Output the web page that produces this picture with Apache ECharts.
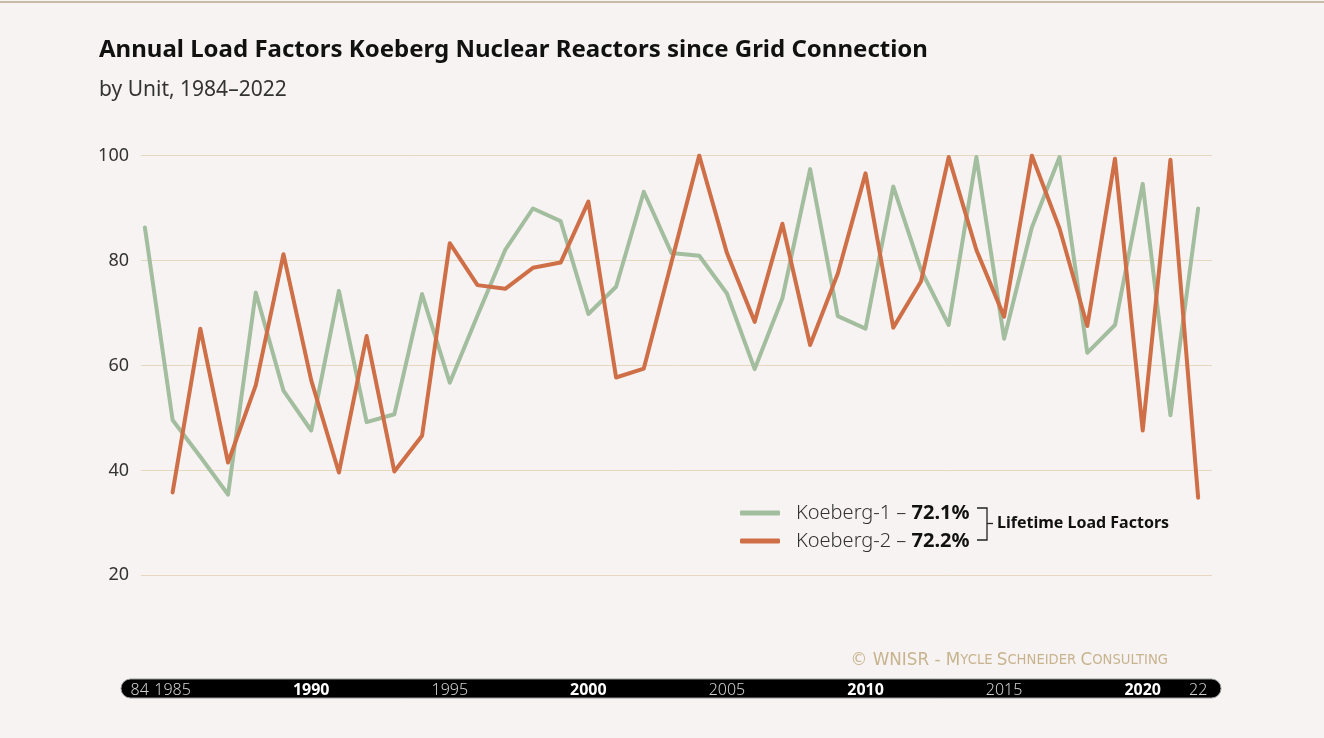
<!DOCTYPE html>
<html>
<head>
<meta charset="utf-8">
<script src="https://cdn.jsdelivr.net/npm/echarts@6/dist/echarts.min.js"></script>
<style>
html,body{margin:0;padding:0;background:#f7f3f2;}
#c{width:1324px;height:738px;}
</style>
</head>
<body>
<div id="c"></div>
<script>
const years = [1984,1985,1986,1987,1988,1989,1990,1991,1992,1993,1994,1995,1996,1997,1998,1999,2000,2001,2002,2003,2004,2005,2006,2007,2008,2009,2010,2011,2012,2013,2014,2015,2016,2017,2018,2019,2020,2021,2022];
const koeberg1 = [86.3,49.6,42.6,35.4,73.9,55.2,47.6,74.2,49.2,50.7,73.6,56.7,69.5,82.0,89.9,87.5,69.8,75.0,93.1,81.4,80.9,73.7,59.3,72.8,97.4,69.4,67.0,94.1,78.2,67.7,99.7,65.1,86.3,99.7,62.4,67.7,94.6,50.5,89.9];
const koeberg2 = [null,35.8,67.0,41.5,56.2,81.2,57.2,39.6,65.6,39.8,46.6,83.3,75.3,74.6,78.6,79.6,91.2,57.7,59.4,79.7,100,81.4,68.3,87.0,63.9,77.5,96.6,67.2,76.0,99.7,82.0,69.3,100,86.1,67.5,99.4,47.6,99.2,34.8];
const seriesNames = ['Koeberg-1','Koeberg-2'];
const lifetime = ['72.1%','72.2%'];
const yTicks = [0,20,40,60,80,100];
const xLabelYears = [1985,1990,1995,2000,2005,2010,2015,2020,2022];
const decadeYears = [1990,2000,2010,2020];

const FONT = '"Noto Sans", sans-serif';
const GREEN = '#a3bd9f';
const ORANGE = '#cf6f47';

const chart = echarts.init(document.getElementById('c'), null, {renderer:'canvas'});

function pairs(vals){ return years.map((y,i)=>[y, vals[i]]); }

chart.setOption({
  backgroundColor:'#f7f3f2',
  animation:false,
  title:{
    text:'Annual Load Factors Koeberg Nuclear Reactors since Grid Connection',
    subtext:'by Unit, 1984\u20132022',
    left:94, top:31,
    itemGap:13,
    textStyle:{fontFamily:FONT,fontSize:24,fontWeight:'bold',color:'#111',lineHeight:28},
    subtextStyle:{fontFamily:FONT,fontSize:21,color:'#333',lineHeight:26}
  },
  grid:{left:141,right:112,top:155.5,bottom:57.7,containLabel:false},
  xAxis:{
    type:'value', min:1983.86, max:2022.5, z:3,
    axisLine:{show:false}, axisTick:{show:false}, splitLine:{show:false},
    axisLabel:{
      customValues:xLabelYears,
      hideOverlap:false,
      margin:1,
      fontFamily:FONT, fontSize:16, lineHeight:18,
      formatter:function(v){
        if(v===1985) return '{e|' + String(years[0]).slice(2) + '}{f|' + v + '}';
        if(v===2022) return '{n|' + String(v).slice(2) + '}';
        if(decadeYears.indexOf(v)>=0) return '{d|'+v+'}';
        return '{n|'+v+'}';
      },
      rich:{
        d:{fontFamily:FONT,fontSize:16,fontWeight:'bold',color:'#ffffff',lineHeight:18},
        n:{fontFamily:FONT,fontSize:16,fontWeight:300,color:'#d0d0d0',lineHeight:18},
        e:{fontFamily:FONT,fontSize:16,fontWeight:300,color:'#d0d0d0',lineHeight:18,padding:[0,5.5,0,0]},
        f:{fontFamily:FONT,fontSize:16,fontWeight:300,color:'#d0d0d0',lineHeight:18,padding:[0,23.8,0,0]}
      }
    }
  },
  yAxis:{
    type:'value', min:0, max:100, interval:20, z:0,
    axisLine:{show:false}, axisTick:{show:false},
    splitLine:{lineStyle:{color:'#e6d8bf',width:1}},
    axisLabel:{
      margin:12, fontFamily:FONT, fontSize:18, color:'#333',
      formatter:function(v){ return v===0 ? '' : String(v); }
    }
  },
  legend:{
    orient:'vertical', left:735, top:494,
    itemWidth:40, itemHeight:5, itemGap:0,
    icon:'roundRect',
    data:seriesNames,
    formatter:function(name){
      const i = seriesNames.indexOf(name);
      return '{a|'+name+' \u2013 }{b|'+lifetime[i]+'}';
    },
    textStyle:{
      fontFamily:FONT, fontSize:20, color:'#333', lineHeight:28, padding:[0,0,0,11],
      rich:{
        a:{fontFamily:FONT,fontSize:20,fontWeight:300,color:'#333',lineHeight:28},
        b:{fontFamily:FONT,fontSize:20,fontWeight:'bold',color:'#111',lineHeight:28}
      }
    }
  },
  graphic:[
    {type:'line', z:10, shape:{x1:0,y1:2,x2:1324,y2:2}, style:{stroke:'#c9bca6',lineWidth:2}},
    {type:'rect', z:1, zlevel:0, shape:{x:121,y:679,width:1100,height:19,r:9.5}, style:{fill:'#000',stroke:'#9a9a9a',lineWidth:1}},
    {type:'polyline', z:10, shape:{points:[[977,508],[987,508],[987,540],[977,540]]}, style:{stroke:'#222',lineWidth:1.3,fill:null}},
    {type:'line', z:10, shape:{x1:987,y1:523.5,x2:993,y2:523.5}, style:{stroke:'#222',lineWidth:1.3}},
    {type:'text', z:10, x:997, y:523.5, style:{text:'Lifetime Load Factors',fontFamily:FONT,fontSize:16,fontWeight:'bold',fill:'#111',verticalAlign:'middle',align:'left'}},
    {type:'text', z:10, x:1168, y:661, style:{
      text:'{a|\u00a9 WNISR - M}{b|YCLE }{a|S}{b|CHNEIDER }{a|C}{b|ONSULTING}',
      align:'right', verticalAlign:'middle',
      rich:{
        a:{fontFamily:'"DejaVu Sans", sans-serif',fontSize:16.8,fill:'#c7b48f',color:'#c7b48f'},
        b:{fontFamily:'"DejaVu Sans", sans-serif',fontSize:13.2,fill:'#c7b48f',color:'#c7b48f'}
      }
    }}
  ],
  series:[
    {name:seriesNames[0], type:'line', data:pairs(koeberg1), symbol:'none', z:5,
     color:GREEN, lineStyle:{color:GREEN,width:4,cap:'round',join:'round'}},
    {name:seriesNames[1], type:'line', data:pairs(koeberg2), symbol:'none', z:5,
     color:ORANGE, lineStyle:{color:ORANGE,width:4,cap:'round',join:'round'}}
  ]
});
</script>
</body>
</html>
